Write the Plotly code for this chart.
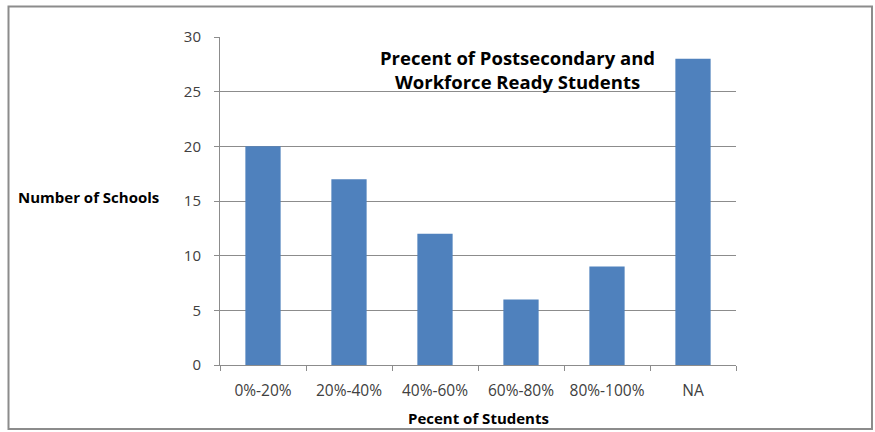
import plotly.graph_objects as go

categories = ["0%-20%", "20%-40%", "40%-60%", "60%-80%", "80%-100%", "NA"]
schools = [20, 17, 12, 6, 9, 28]
y_ticks = [0, 5, 10, 15, 20, 25, 30]

W, H = 875, 432
L, R, T, B = 220, 736, 37, 365

def px(x):
    return (x - L) / (R - L)

def py(y):
    return (B - y) / (B - T)

FONT = "Open Sans, sans-serif"

fig = go.Figure(go.Bar(
    x=categories, y=schools,
    marker=dict(color="#4F81BD", line=dict(width=0)),
    width=0.41,
))

fig.update_layout(
    width=W, height=H,
    margin=dict(l=L, r=W - R, t=T, b=H - B, pad=0),
    plot_bgcolor="white", paper_bgcolor="white",
    showlegend=False,
    font=dict(family=FONT, size=14, color="#404040"),
    xaxis=dict(
        showgrid=False, showline=True, linecolor="#8c8c8c", linewidth=1,
        ticks="outside", ticklen=5, tickcolor="#8c8c8c",
        tickson="boundaries",
        tickfont=dict(family=FONT, size=15.5, color="#404040"),
        ticklabelstandoff=11,
        range=[-0.5, 5.5],
    ),
    yaxis=dict(
        range=[0, 30], tickvals=y_ticks,
        showgrid=True, gridcolor="#8c8c8c", gridwidth=1,
        showline=True, linecolor="#8c8c8c", linewidth=1,
        ticks="outside", ticklen=5, tickcolor="#8c8c8c",
        tickfont=dict(family=FONT, size=15, color="#404040"),
        ticklabelstandoff=10,
        zeroline=False,
    ),
    shapes=[dict(
        type="rect", xref="paper", yref="paper",
        x0=px(8.5), x1=px(872), y0=py(429), y1=py(6.5),
        line=dict(color="#8c8c8c", width=2), fillcolor="rgba(0,0,0,0)", layer="below",
    )],
    annotations=[
        dict(text="<b>Precent of Postsecondary and<br>Workforce Ready Students</b>",
             xref="paper", yref="paper", x=px(517), y=py(69), xanchor="center", yanchor="middle",
             showarrow=False, align="center",
             font=dict(family=FONT, size=18.5, color="black")),
        dict(text="<b>Number of Schools</b>",
             xref="paper", yref="paper", x=px(16), y=py(197), xanchor="left", yanchor="middle",
             showarrow=False, font=dict(family=FONT, size=15, color="black")),
        dict(text="<b>Pecent of Students</b>",
             xref="paper", yref="paper", x=px(478), y=py(418), xanchor="center", yanchor="middle",
             showarrow=False, font=dict(family=FONT, size=15, color="black")),
    ],
)

fig.write_html("out.html", config={"displayModeBar": False},
               post_script="document.body.style.margin='0';document.body.style.overflow='hidden';")
